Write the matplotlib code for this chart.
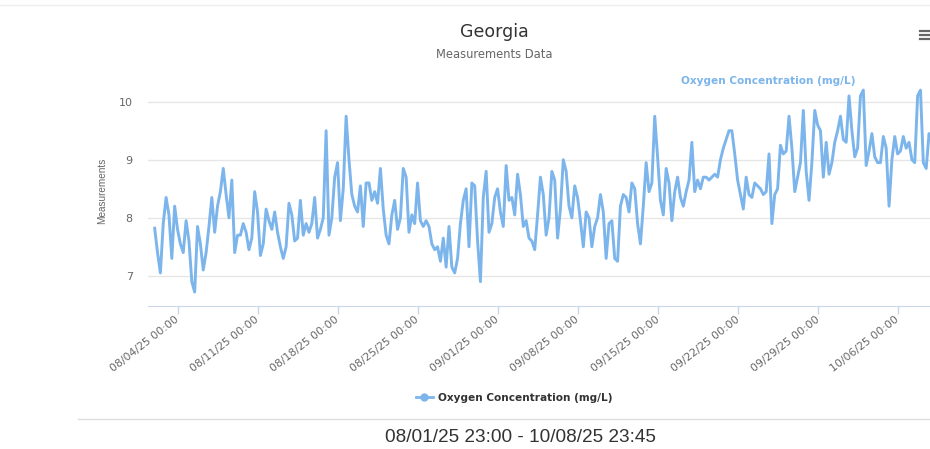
import matplotlib
matplotlib.use("Agg")
import matplotlib.pyplot as plt
from matplotlib.lines import Line2D
import matplotlib.dates as mdates
import pandas as pd

plt.rcParams["font.family"] = ["DejaVu Sans"]

TITLE = "Georgia"
SUBTITLE = "Measurements Data"
SERIES_NAME = "Oxygen Concentration (mg/L)"
Y_LABEL = "Measurements"
RANGE_TEXT = "08/01/25 23:00 - 10/08/25 23:45"

# dissolved oxygen, one reading every 6 hours from the first timestamp
first_reading = "2025-08-01 23:00"
reading_step = "6h"
oxygen = [
    7.82, 7.4, 7.05, 7.9, 8.35, 8.05, 7.3, 8.2, 7.8, 7.55, 7.4, 7.95,
    7.6, 6.9, 6.72, 7.85, 7.55, 7.1, 7.4, 7.85, 8.35, 7.75, 8.2, 8.45,
    8.85, 8.4, 8.0, 8.65, 7.4, 7.7, 7.7, 7.9, 7.75, 7.45, 7.65, 8.45,
    8.1, 7.35, 7.55, 8.15, 7.95, 7.8, 8.1, 7.75, 7.5, 7.3, 7.5, 8.25,
    8.05, 7.6, 7.65, 8.3, 7.7, 7.9, 7.75, 7.9, 8.35, 7.65, 7.8, 8.0,
    9.5, 7.7, 8.0, 8.7, 8.95, 7.95, 8.5, 9.75, 9.0, 8.4, 8.2, 8.1,
    8.55, 7.85, 8.6, 8.6, 8.3, 8.45, 8.25, 8.85, 8.15, 7.7, 7.55, 8.05,
    8.3, 7.8, 8.0, 8.85, 8.7, 7.75, 8.05, 7.9, 8.6, 7.95, 7.85, 7.95,
    7.85, 7.55, 7.45, 7.5, 7.25, 7.65, 7.15, 7.85, 7.15, 7.05, 7.3, 7.9,
    8.3, 8.5, 7.5, 8.6, 8.55, 7.6, 6.9, 8.35, 8.8, 7.75, 7.9, 8.35,
    8.5, 8.1, 7.85, 8.9, 8.3, 8.35, 8.05, 8.75, 8.4, 7.85, 7.95, 7.65,
    7.6, 7.45, 8.05, 8.7, 8.4, 7.7, 8.0, 8.8, 8.65, 7.65, 8.15, 9.0,
    8.8, 8.2, 8.0, 8.55, 8.35, 7.95, 7.5, 8.1, 8.0, 7.5, 7.85, 8.0,
    8.4, 8.1, 7.3, 7.9, 7.95, 7.3, 7.25, 8.2, 8.4, 8.35, 8.1, 8.6,
    8.5, 7.9, 7.55, 8.2, 8.95, 8.45, 8.6, 9.75, 9.05, 8.3, 8.05, 8.85,
    8.6, 7.95, 8.45, 8.7, 8.35, 8.2, 8.45, 8.65, 9.3, 8.45, 8.65, 8.5,
    8.7, 8.7, 8.65, 8.7, 8.75, 8.7, 9.0, 9.2, 9.35, 9.5, 9.5, 9.1,
    8.65, 8.4, 8.15, 8.7, 8.4, 8.35, 8.6, 8.55, 8.5, 8.4, 8.45, 9.1,
    7.9, 8.4, 8.5, 9.25, 9.1, 9.15, 9.75, 9.2, 8.45, 8.7, 8.95, 9.85,
    8.8, 8.3, 8.95, 9.85, 9.6, 9.5, 8.7, 9.3, 8.75, 8.95, 9.3, 9.5,
    9.75, 9.35, 9.3, 10.1, 9.5, 9.05, 9.2, 10.1, 10.2, 8.9, 9.15, 9.45,
    9.05, 8.95, 8.95, 9.4, 9.2, 8.2, 9.0, 9.4, 9.1, 9.15, 9.4, 9.2,
    9.3, 9.0, 8.95, 10.1, 10.2, 8.95, 8.85, 9.45, 9.3,
]

y_ticks = [7, 8, 9, 10]
x_ticks = pd.date_range("2025-08-04", "2025-10-06", freq="7D")
view_start = pd.Timestamp("2025-08-01 09:00")
view_end = pd.Timestamp("2025-10-08 19:00")

LINE_COLOR = "#7cb5ec"
TEXT_DARK = "#333333"
TEXT_MID = "#666666"

times = pd.date_range(first_reading, periods=len(oxygen), freq=reading_step)

W, H = 930, 449
fig = plt.figure(figsize=(W / 100, H / 100), dpi=100)
ax = fig.add_axes([148 / W, 143 / H, 782 / W, 231 / H])

ax.plot(times, oxygen, color=LINE_COLOR, lw=2.1, solid_joinstyle="round")

ax.set_xlim(view_start, view_end)
ax.set_ylim(6.48, 10.46)
ax.set_yticks(y_ticks)
ax.grid(axis="y", color="#e6e6e6", lw=1)
ax.set_axisbelow(True)
for side in ("top", "right", "left"):
    ax.spines[side].set_visible(False)
ax.spines["bottom"].set_color("#ccd6eb")
ax.tick_params(axis="y", length=0, pad=11, labelsize=8, labelcolor=TEXT_MID)

ax.set_xticks(x_ticks)
ax.xaxis.set_major_formatter(mdates.DateFormatter("%m/%d/%y %H:%M"))
ax.tick_params(axis="x", length=6, width=1, color="#ccd6eb", pad=3,
               labelsize=7.8, labelcolor=TEXT_MID)
for lbl in ax.get_xticklabels():
    lbl.set_rotation(38)
    lbl.set_ha("right")
    lbl.set_va("center")
    lbl.set_rotation_mode("anchor")

ax.set_ylabel(Y_LABEL, family="Liberation Sans", fontsize=7.2, color=TEXT_MID,
              labelpad=8)

# series name drawn next to the line, top right
fig.text(768 / W, 1 - 81 / H, SERIES_NAME, ha="center", va="center",
         color=LINE_COLOR, fontsize=7.6, fontweight="bold")

fig.text(494 / W, 1 - 32 / H, TITLE, ha="center", va="center",
         color=TEXT_DARK, fontsize=12.5)
fig.text(494 / W, 1 - 55 / H, SUBTITLE, ha="center", va="center",
         color=TEXT_MID, fontsize=8.3)

handle = Line2D([], [], color=LINE_COLOR, lw=2, marker="o", markersize=5)
fig.legend([handle], [SERIES_NAME], loc="center",
           bbox_to_anchor=(514 / W, 1 - 398 / H), frameon=False,
           handlelength=1.6, handletextpad=0.5,
           prop={"size": 7.6, "weight": "bold"}, labelcolor=TEXT_DARK)

# page rules and the export menu icon
fig.add_artist(Line2D([0, 1], [1 - 5 / H] * 2, color="#eeeeee", lw=1,
                      transform=fig.transFigure))
fig.add_artist(Line2D([78 / W, 1], [1 - 419 / H] * 2, color="#dddddd", lw=1,
                      transform=fig.transFigure))
for yy in (31, 35, 39):
    fig.add_artist(Line2D([920 / W, 930 / W], [1 - yy / H] * 2,
                          color=TEXT_MID, lw=1.6, transform=fig.transFigure))

fig.text(520 / W, 1 - 438 / H, RANGE_TEXT, ha="center", va="center",
         family="Liberation Sans", color=TEXT_DARK, fontsize=13.7)

fig.savefig("out.png", dpi=100)
